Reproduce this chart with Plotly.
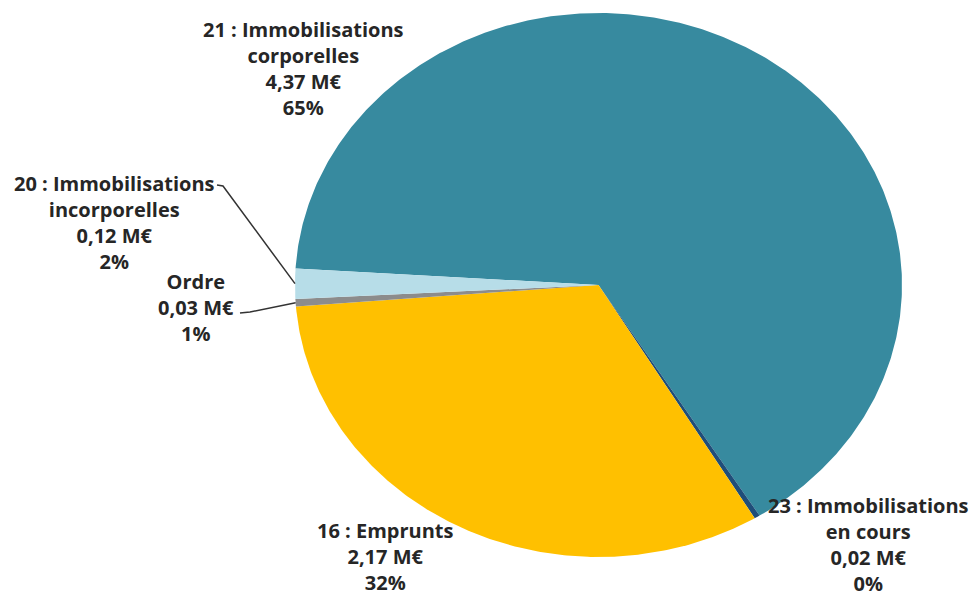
import numpy as np
import plotly.graph_objects as go

# Budget split (M€), listed clockwise starting with the large slice
categories = ["21 : Immobilisations<br>corporelles",
              "23 : Immobilisations<br>en cours",
              "16 : Emprunts",
              "Ordre",
              "20 : Immobilisations<br>incorporelles"]
values = [4.37, 0.02, 2.17, 0.03, 0.12]
percent_labels = ["65%", "0%", "32%", "1%", "2%"]
colors = ["#378A9F", "#1F4E79", "#FFC000", "#8C8C8C", "#B7DDE8"]

W, H = 974, 598
# Pie placement on the page (pixels): centre and radii of the ellipse
CX, CY, RX, RY = 598.5, 285.0, 303.5, 272.0
START_DEG = 176.5  # where the first slice begins, counter-clockwise from 3 o'clock


def to_data(px, py):
    """Page pixel position -> unit-circle data coordinates."""
    return (px - CX) / RX, (CY - py) / RY


fig = go.Figure()

total = sum(values)
angle = START_DEG
mid_angles = []
for val, col in zip(values, colors):
    span = 360.0 * val / total
    a0, a1 = angle, angle - span
    n = max(4, int(span / 0.5) + 2)
    th = np.radians(np.linspace(a0, a1, n))
    xs = np.concatenate([[0.0], np.cos(th), [0.0]])
    ys = np.concatenate([[0.0], np.sin(th), [0.0]])
    fig.add_trace(go.Scatter(x=xs, y=ys, mode="lines", fill="toself",
                             fillcolor=col, line=dict(width=0, color=col),
                             hoverinfo="skip", showlegend=False))
    mid_angles.append((a0 + a1) / 2)
    angle = a1

# Label blocks: centre positions on the page (pixels)
label_pos = [(303, 68), (868, 544), (385, 556), (196, 307), (114, 222)]
for cat, val, pct, (px, py) in zip(categories, values, percent_labels, label_pos):
    x, y = to_data(px, py)
    txt = f"{cat}<br>{val:.2f}".replace(".", ",") + f" M€<br>{pct}"
    fig.add_annotation(x=x, y=y, text=txt, showarrow=False,
                       xanchor="center", yanchor="middle", align="center",
                       borderpad=0,
                       font=dict(family="Open Sans", size=20, color="#262626",
                                 weight="bold"))

# Leader lines for the two thin slices on the left
leaders = {4: [(217, 185), (223, 186)], 3: [(240, 313), (250, 312)]}
for idx, pts in leaders.items():
    xs, ys = zip(*[to_data(px, py) for px, py in pts])
    a = np.radians(mid_angles[idx])
    xs = list(xs) + [np.cos(a) * 1.0]
    ys = list(ys) + [np.sin(a) * 1.0]
    fig.add_trace(go.Scatter(x=xs, y=ys, mode="lines",
                             line=dict(color="#333333", width=1.5),
                             hoverinfo="skip", showlegend=False))

fig.update_layout(
    width=W, height=H,
    margin=dict(l=0, r=0, t=0, b=0),
    paper_bgcolor="white", plot_bgcolor="white",
    xaxis=dict(range=[(0 - CX) / RX, (W - CX) / RX], visible=False,
               fixedrange=True),
    yaxis=dict(range=[(CY - H) / RY, CY / RY], visible=False,
               fixedrange=True),
)

fig.write_html("out.html")
